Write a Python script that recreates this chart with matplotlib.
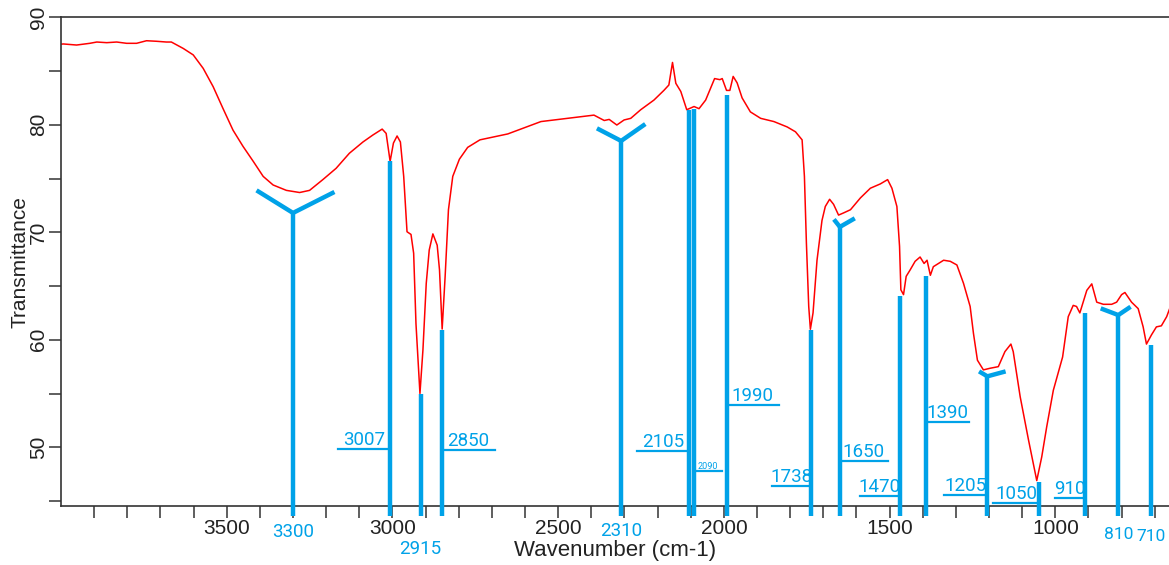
import numpy as np
import matplotlib.pyplot as plt

# FTIR spectrum, (wavenumber cm-1, %T)
wavenumber = [4000, 3993, 3953, 3913, 3892, 3862, 3832, 3802, 3772, 3742, 3712, 3682, 3667,
              3631, 3601, 3571, 3541, 3511, 3481, 3451, 3420, 3390, 3360, 3320, 3280, 3250,
              3210, 3170, 3130, 3089, 3059, 3031, 3019, 3007, 2997, 2986, 2976, 2966, 2956,
              2944, 2936, 2929, 2917, 2908, 2898, 2889, 2878, 2865, 2858, 2850, 2841, 2831,
              2818, 2798, 2773, 2736, 2652, 2552, 2472, 2392, 2361, 2346, 2323, 2301, 2281,
              2251, 2211, 2181, 2166, 2155, 2145, 2130, 2112, 2090, 2075, 2055, 2040, 2028,
              2012, 2005, 1992, 1982, 1972, 1960, 1945, 1920, 1889, 1849, 1809, 1784, 1764,
              1757, 1751, 1744, 1739, 1731, 1719, 1704, 1694, 1681, 1669, 1654, 1639, 1618,
              1588, 1558, 1528, 1506, 1493, 1478, 1470, 1466, 1458, 1450, 1438, 1423, 1408,
              1396, 1387, 1377, 1368, 1337, 1317, 1297, 1277, 1257, 1247, 1235, 1217, 1197,
              1172, 1152, 1134, 1127, 1106, 1081, 1056, 1041, 1026, 1006, 978, 961, 946,
              936, 926, 905, 890, 875, 855, 830, 815, 800, 790, 770, 750, 735, 725, 710,
              695, 680, 664, 655]
transmittance = [87.5, 87.52, 87.42, 87.58, 87.7, 87.64, 87.7, 87.58, 87.58, 87.82, 87.77, 87.7, 87.7,
                 87.1, 86.5, 85.25, 83.55, 81.5, 79.5, 78.0, 76.6, 75.2, 74.4, 73.9, 73.7, 73.9,
                 74.9, 75.95, 77.35, 78.4, 79.05, 79.6, 79.2, 76.6, 78.3, 78.96, 78.4, 75.2, 70.05,
                 69.8, 68.05, 61.5, 55.0, 59.05, 65.25, 68.35, 69.85, 68.8, 66.5, 61.0, 65.9, 72.1,
                 75.2, 76.8, 77.9, 78.6, 79.15, 80.3, 80.6, 80.9, 80.4, 80.5, 79.98, 80.45, 80.6,
                 81.4, 82.3, 83.2, 83.7, 85.8, 83.86, 83.1, 81.4, 81.7, 81.5, 82.3, 83.4, 84.3,
                 84.2, 84.3, 83.2, 83.2, 84.5, 83.9, 82.5, 81.2, 80.6, 80.3, 79.8, 79.35, 78.6,
                 75.2, 69.0, 63.1, 60.98, 62.5, 67.4, 71.1, 72.4, 73.07, 72.6, 71.6, 71.8, 72.1,
                 73.2, 74.1, 74.5, 74.9, 74.1, 72.4, 68.7, 64.65, 64.2, 65.9, 66.5, 67.3, 67.7,
                 67.1, 67.4, 66.0, 66.8, 67.4, 67.3, 66.96, 65.25, 63.1, 60.6, 58.1, 57.2, 57.35,
                 57.5, 58.9, 59.6, 58.9, 54.7, 50.7, 46.9, 49.1, 51.9, 55.3, 58.4, 62.15, 63.2,
                 63.1, 62.5, 64.6, 65.2, 63.5, 63.3, 63.3, 63.5, 64.2, 64.4, 63.5, 62.9, 61.2, 59.6, 60.45,
                 61.2, 61.3, 62.15, 62.9]

# assigned bands and the %T where each marker starts
band_labels = ['3300', '3007', '2915', '2850', '2310', '2105', '2090', '1990', '1738',
               '1650', '1470', '1390', '1205', '1050', '910', '810', '710']
band_wn = [3300, 3007, 2915, 2850, 2310, 2105, 2090, 1990, 1738,
           1650, 1470, 1390, 1205, 1050, 910, 810, 710]
band_top = [71.8, 76.6, 55.0, 60.9, 78.5, 81.4, 81.5, 82.8, 60.9,
            70.5, 64.1, 65.9, 56.6, 46.8, 62.5, 62.3, 59.5]

BLUE = '#00a2e8'
LINE_END = 43.65

# broad bands get a "Y" marker: (dx left, dy left, dx right, dy right)
forks = {'3300': (110, 2.1, -125, 1.95),
         '2310': (73, 1.17, -73, 1.57),
         '1650': (18, 0.7, -45, 0.8),
         '1205': (25, 0.46, -55, 0.46),
         '810': (53, 0.62, -37, 0.77)}
# labels under the axis: pixel drop of the label centre, font size
below = {'3300': (26, 13.5), '2915': (43, 13.5), '2310': (25, 13.5),
         '810': (28, 12.5), '710': (30, 12.5)}
# labels on a short rule: side, rule length (cm-1), rule height (%T)
ruled = {'3007': ('left', 156, 49.85), '2850': ('right', 160, 49.72),
         '2105': ('left', 158, 49.66), '2090': ('right', 85, 47.8),
         '1990': ('right', 155, 53.93), '1738': ('left', 116, 46.4),
         '1650': ('right', 145, 48.75), '1470': ('left', 120, 45.5),
         '1390': ('right', 130, 52.38), '1205': ('left', 132, 45.56),
         '1050': ('left', 137, 44.79), '910': ('left', 90, 45.26)}

plt.rcParams['font.family'] = ['Liberation Sans', 'DejaVu Sans']

fig = plt.figure(figsize=(11.69, 5.65), dpi=100)
ax = fig.add_axes([61 / 1169, 58.6 / 565, 1108 / 1169, 489.1 / 565])

ax.plot(wavenumber, transmittance, color='#ff0000', lw=1.1, zorder=2)

for lab, wn, top in zip(band_labels, band_wn, band_top):
    ax.plot([wn, wn], [top, LINE_END], color=BLUE, lw=3.2, solid_capstyle='butt',
            clip_on=False, zorder=3)
    if lab in forks:
        dxl, dyl, dxr, dyr = forks[lab]
        ax.plot([wn + dxl, wn, wn + dxr], [top + dyl, top, top + dyr], color=BLUE,
                lw=3.2, solid_capstyle='butt', zorder=3)
    if lab in below:
        drop, fs = below[lab]
        ax.annotate(lab, xy=(wn, 0), xycoords=('data', 'axes fraction'),
                    xytext=(0, -drop), textcoords='offset pixels',
                    ha='center', va='center', color=BLUE, fontsize=fs,
                    family='Roboto', annotation_clip=False)
    if lab in ruled:
        side, length, y = ruled[lab]
        x2 = wn + length if side == 'left' else wn - length
        ax.plot([wn, x2], [y, y], color=BLUE, lw=1.6, zorder=3)
        small = lab == '2090'
        ax.annotate(lab, xy=((wn + x2) / 2, y), xytext=(0, 2 if small else 4),
                    textcoords='offset pixels', ha='center', va='baseline',
                    color=BLUE, fontsize=6.5 if small else 13.5, family='Roboto')

ax.set_xlim(4000, 657)
ax.set_ylim(44.5, 90)

xt = np.arange(3900, 650, -100)
ax.set_xticks(xt)
ax.set_xticklabels([str(t) if t % 500 == 0 else '' for t in xt])
yt = np.arange(45, 91, 5)
ax.set_yticks(yt)
ax.set_yticklabels([str(t) if t % 10 == 0 else '' for t in yt])

ax.tick_params(direction='out', length=8.3, width=1.1, color='#333333',
               labelsize=15, labelcolor='#222222', pad=1)
ax.tick_params(axis='y', labelrotation=90)
for lbl in ax.get_yticklabels():
    lbl.set_va('center')

for side in ['left', 'bottom', 'top']:
    ax.spines[side].set_linewidth(1.2)
    ax.spines[side].set_color('#333333')
ax.spines['right'].set_visible(False)

ax.set_xlabel('Wavenumber (cm-1)', fontsize=16, color='#222222')
ax.xaxis.set_label_coords(0.5, -0.068)
ax.set_ylabel('Transmittance', fontsize=15, color='#222222')
ax.yaxis.set_label_coords(-0.028, 0.5)

fig.savefig('out.png', dpi=100)
